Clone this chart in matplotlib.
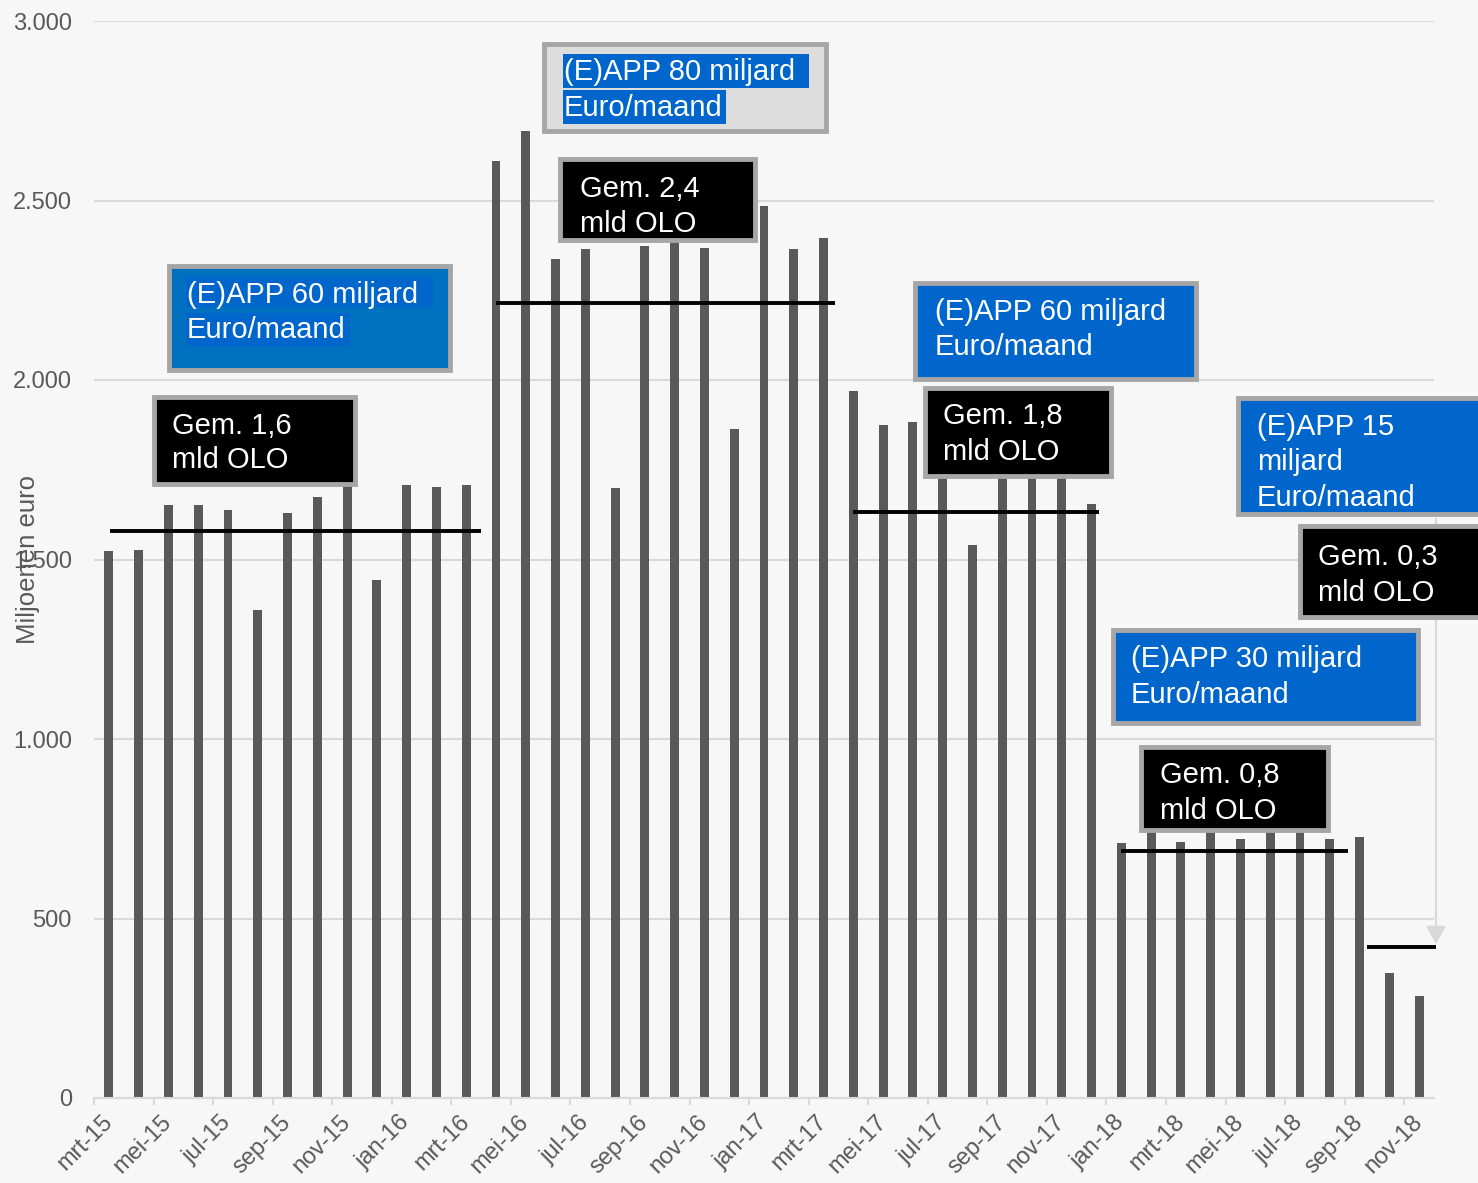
import numpy as np
import matplotlib
matplotlib.use('Agg')
import matplotlib.pyplot as plt
from matplotlib.patches import Rectangle, FancyArrowPatch
from matplotlib.ticker import FuncFormatter

plt.rcParams['font.family'] = ['Liberation Sans', 'DejaVu Sans']

# maanden mrt-15 .. nov-18
month_names = ['jan', 'feb', 'mrt', 'apr', 'mei', 'jun', 'jul', 'aug', 'sep', 'okt', 'nov', 'dec']
months = [f'{month_names[(i + 2) % 12]}-{15 + (i + 2) // 12}' for i in range(45)]

olo = [1524, 1526, 1653, 1653, 1638, 1359, 1630, 1674, 1720, 1443, 1707, 1703, 1707,
       2610, 2694, 2337, 2364, 1699, 2373, 2390, 2368, 1863, 2485, 2366, 2395,
       1970, 1876, 1883, 1760, 1541, 1750, 1740, 1730, 1655,
       710, 740, 713, 740, 722, 745, 740, 722, 727,
       349, 283]

# gemiddelde per periode
avg_values = [1580, 2215, 1633, 688, 421]

W, H = 1478, 1183
GREY = '#595959'
BG = '#F7F7F7'


def fx(x):
    return x / W


def fy(y):
    return 1 - y / H


fig = plt.figure(figsize=(W / 100, H / 100), dpi=100, facecolor=BG)
ax = fig.add_axes([fx(94), fy(1098), (1434 - 94) / W, (1098 - 21) / H], facecolor=BG)

x = np.arange(len(olo)) + 0.5
ax.bar(x, olo, width=0.3, color=GREY, zorder=2)

# gemiddelde lijnen
avg_x = [(0.54, 12.99), (13.5, 24.9), (25.5, 33.76), (34.5, 42.1), (42.75, 45.07)]
for (a, b), v in zip(avg_x, avg_values):
    ax.plot([a, b], [v, v], color='black', lw=2.8, zorder=3, clip_on=False,
            solid_capstyle='butt')

ax.set_xlim(0, 45)
ax.set_ylim(0, 3000)
ax.set_yticks(np.arange(0, 3001, 500))
ax.yaxis.set_major_formatter(FuncFormatter(lambda v, p: f'{int(v):,}'.replace(',', '.')))
ax.grid(axis='y', color='#D9D9D9', lw=1.5, zorder=0)
ax.set_axisbelow(True)
for s in ['left', 'right', 'top']:
    ax.spines[s].set_visible(False)
ax.spines['bottom'].set_color('#D9D9D9')
ax.spines['bottom'].set_linewidth(1.5)
ax.tick_params(axis='y', length=0, pad=16, labelsize=17, labelcolor=GREY)

ax.set_xticks(x[::2])
ax.set_xticklabels(months[::2], rotation=45, ha='right', va='center',
                   rotation_mode='anchor', fontsize=17, color=GREY)
ax.tick_params(axis='x', which='major', length=0, pad=15)
ax.set_xticks(np.arange(0, 45, 2), minor=True)
ax.tick_params(axis='x', which='minor', length=5, color='#D9D9D9', width=1.5)

fig.text(fx(28), fy(560), 'Miljoenen euro', rotation=90, ha='center', va='center',
         fontsize=18.5, color=GREY)

# pijl vanaf (E)APP 15 kader
arrow = FancyArrowPatch((fx(1436), fy(516)), (fx(1436), fy(947)), transform=fig.transFigure,
                        arrowstyle='-|>,head_length=11,head_width=6', mutation_scale=1,
                        color='#D9D9D9', lw=1.5, zorder=4)
fig.add_artist(arrow)

BLUE = '#0066CC'
boxes = [
    # x0, y0, x1, y1, kleur, tekst-x, basislijnen, regels
    (166, 264, 452, 372, '#0070C0', 187, [303, 338], ['(E)APP 60 miljard', 'Euro/maand']),
    (541, 41, 828, 133, '#DDDDDD', 564, [80, 116], ['(E)APP 80 miljard', 'Euro/maand']),
    (557, 157, 757, 243, 'black', 580, [197, 232], ['Gem. 2,4', 'mld OLO']),
    (151, 394, 357, 486, 'black', 172, [434, 468], ['Gem. 1,6', 'mld OLO']),
    (912, 280, 1198, 381, BLUE, 935, [320, 355], ['(E)APP 60 miljard', 'Euro/maand']),
    (922, 385, 1113, 478, 'black', 943, [424, 460], ['Gem. 1,8', 'mld OLO']),
    (1235, 395, 1500, 516, BLUE, 1257, [435, 470, 506], ['(E)APP 15', 'miljard', 'Euro/maand']),
    (1297, 523, 1500, 619, 'black', 1318, [565, 601], ['Gem. 0,3', 'mld OLO']),
    (1110, 627, 1420, 725, BLUE, 1131, [667, 703], ['(E)APP 30 miljard', 'Euro/maand']),
    (1138, 744, 1330, 832, 'black', 1160, [783, 819], ['Gem. 0,8', 'mld OLO']),
]

for x0, y0, x1, y1, fc, tx, bases, lines in boxes:
    rect = Rectangle((fx(x0 + 2.5), fy(y1 - 2.5)), (x1 - x0 - 5) / W, (y1 - y0 - 5) / H,
                     transform=fig.transFigure, facecolor=fc, edgecolor='#A6A6A6',
                     lw=3.5, zorder=5)
    fig.add_artist(rect)
    for b, s in zip(bases, lines):
        fig.text(fx(tx), fy(b), s, ha='left', va='baseline', fontsize=21,
                 color='white', zorder=7)

# blauwe markering in het grijze kader
for hx0, hy0, hx1, hy1 in [(563, 54, 809, 88), (563, 90, 726, 124)]:
    fig.add_artist(Rectangle((fx(hx0), fy(hy1)), (hx1 - hx0) / W, (hy1 - hy0) / H,
                             transform=fig.transFigure, facecolor=BLUE, lw=0, zorder=6))
# lichtere markering in het eerste blauwe kader
for hx0, hy0, hx1, hy1 in [(186, 277, 433, 307), (186, 313, 350, 346)]:
    fig.add_artist(Rectangle((fx(hx0), fy(hy1)), (hx1 - hx0) / W, (hy1 - hy0) / H,
                             transform=fig.transFigure, facecolor=BLUE, lw=0, zorder=6))

fig.savefig('out.png', dpi=100, facecolor=BG)
